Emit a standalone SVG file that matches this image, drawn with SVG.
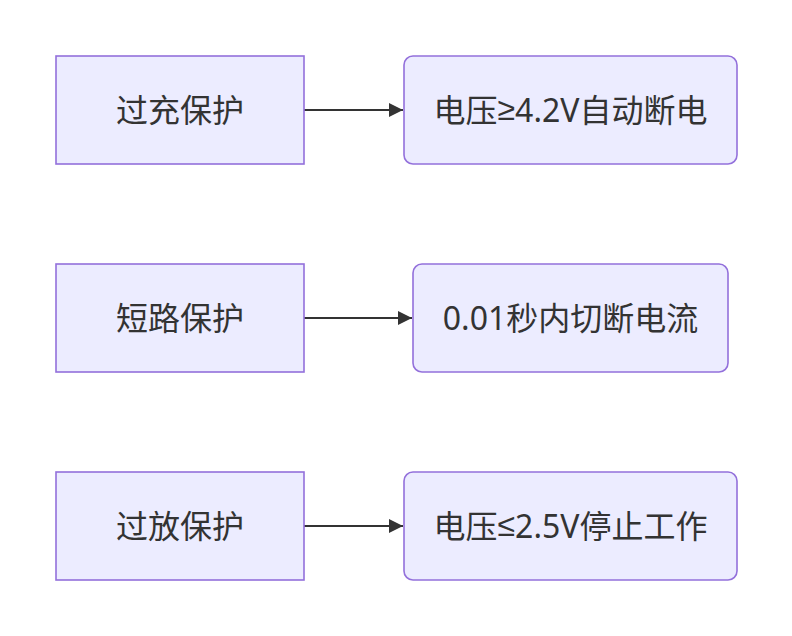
<svg xmlns="http://www.w3.org/2000/svg" width="792" height="636" viewBox="0 0 792 636">
<style>
.n{fill:#ECECFF;stroke:#9370DB;stroke-width:1.6}
.t{font-family:"Noto Sans","Noto Sans CJK SC",sans-serif;font-size:32px;fill:#333;text-anchor:middle;dominant-baseline:central}
.s{font-family:"Liberation Sans","DejaVu Sans",sans-serif}
.e{stroke:#333;stroke-width:2;fill:none;marker-end:url(#ah)}
</style>
<defs>
<marker id="ah" viewBox="0 0 10 10" refX="10" refY="5" markerUnits="userSpaceOnUse" markerWidth="16" markerHeight="14" orient="auto">
<path d="M0,0L10,5L0,10z" fill="#333"/>
</marker>
</defs>
<rect width="792" height="636" fill="#fff"/>
<g id="edges">
<path class="e" d="M304,110H403"/>
<path class="e" d="M304,318H412"/>
<path class="e" d="M304,526H403"/>
</g>
<g id="A"><rect class="n" x="56" y="56" width="248" height="108"/><text class="t" x="180" y="109">过充保护</text></g>
<g id="B"><rect class="n" x="404" y="56" width="333" height="108" rx="9"/><text class="t" x="570.5" y="109">电压<tspan class="s">≥</tspan>4.2V自动断电</text></g>
<g id="C"><rect class="n" x="56" y="264" width="248" height="108"/><text class="t" x="180" y="317">短路保护</text></g>
<g id="D"><rect class="n" x="413" y="264" width="315" height="108" rx="9"/><text class="t" x="570.5" y="317">0.01秒内切断电流</text></g>
<g id="E"><rect class="n" x="56" y="472" width="248" height="108"/><text class="t" x="180" y="525">过放保护</text></g>
<g id="F"><rect class="n" x="404" y="472" width="333" height="108" rx="9"/><text class="t" x="570.5" y="525">电压<tspan class="s">≤</tspan>2.5V停止工作</text></g>
</svg>
